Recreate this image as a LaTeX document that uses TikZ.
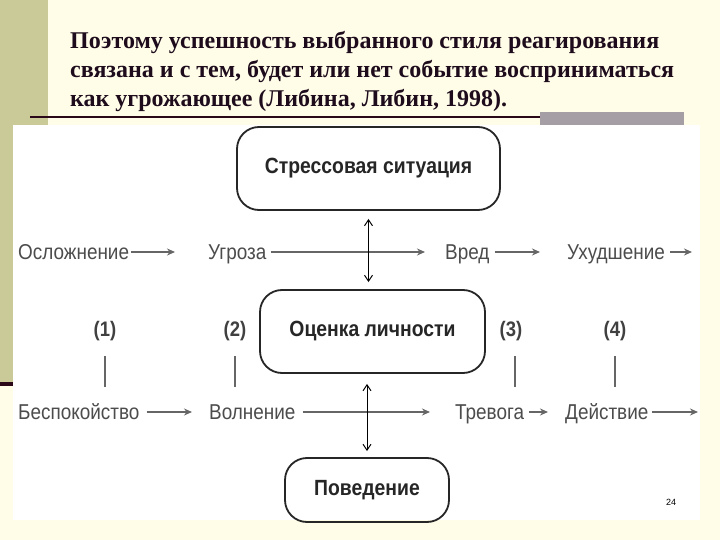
\documentclass[tikz,border=0pt]{standalone}
\usepackage{fontspec}
\setmainfont{Liberation Serif}
\setsansfont{Liberation Sans}
\newfontfamily\diagfont[FakeStretch=0.88]{Liberation Sans}
\usetikzlibrary{arrows.meta, positioning}

\definecolor{slidebg}{HTML}{FFFDE8}
\definecolor{olivestrip}{HTML}{CACA98}
\definecolor{darkline}{HTML}{2A0818}
\definecolor{graybar}{HTML}{A59FA5}
\definecolor{titletext}{HTML}{1E0C1C}

\begin{document}
\begin{tikzpicture}[x=1pt, y=-1pt,
        box/.style={draw=black!85, line width=1.8pt, rounded corners=22pt,
                    font=\diagfont\fontsize{22}{22}\bfseries\selectfont, text=black!85},
        lab/.style={font=\diagfont\fontsize{21.5}{21.5}\selectfont, text=black!70,
                    inner sep=0pt, text height=15pt, text depth=0pt, anchor=west},
        num/.style={font=\diagfont\fontsize{21}{21}\bfseries\selectfont, text=black!75},
        arr/.style={-{Stealth[length=8pt,width=7pt]}, line width=1.4pt, black!60},
        tick/.style={line width=1.3pt, black!60},
        dbl/.style={{Straight Barb[length=6pt,width=8pt]}-{Straight Barb[length=6pt,width=8pt]},
                    line width=1pt, black}]
      % slide
      \fill[slidebg] (0,0) rectangle (720,540);
      \useasboundingbox (0,0) rectangle (720,540);
      \fill[olivestrip] (0,0) rectangle (48,382);
      \fill[darkline] (0,382) rectangle (13,386);
      \fill[white] (13,125) rectangle (700,520);
      \fill[graybar] (540,112) rectangle (684,125);
      \draw[darkline, line width=2.5pt] (30,117) -- (540,117);
      \node[anchor=north west, inner sep=0pt, align=left, text=titletext,
            font=\fontsize{24}{29}\bfseries\selectfont] (title) at (70,31)
        {Поэтому успешность выбранного стиля реагирования\\
         связана и с тем, будет или нет событие восприниматься\\
         как угрожающее (Либина, Либин, 1998).};
      % boxes
      \node[box, minimum width=263pt, minimum height=83pt] (stress) at (368.5,168.5) {Стрессовая ситуация};
      \node[box, minimum width=225pt, minimum height=83pt] (ocenka) at (372.5,331.5) {Оценка личности};
      \node[box, minimum width=164pt, minimum height=64pt] (pov) at (367,490) {Поведение};
      % upper row
      \node[lab] (osl) at (18,252) {Осложнение};
      \node[lab] (ugr) at (208,252) {Угроза};
      \node[lab] (vred) at (445,252) {Вред};
      \node[lab] (uhud) at (567,252) {Ухудшение};
      \coordinate (uend) at (692,252);
      \draw[arr, shorten <=2pt, shorten >=33pt] (osl) -- (ugr);
      \draw[arr, shorten <=4pt, shorten >=20pt] (ugr) -- (vred);
      \draw[arr, shorten <=5pt, shorten >=27pt] (vred) -- (uhud);
      \draw[arr, shorten <=5pt] (uhud) -- (uend);
      % lower row
      \node[lab] (bes) at (18,412) {Беспокойство};
      \node[lab] (vol) at (209,412) {Волнение};
      \node[lab] (trev) at (455,412) {Тревога};
      \node[lab] (deys) at (565,412) {Действие};
      \coordinate (dend) at (698,412);
      \draw[arr, shorten <=7pt, shorten >=17pt] (bes) -- (vol);
      \draw[arr, shorten <=7pt, shorten >=25pt] (vol) -- (trev);
      \draw[arr, shorten <=5pt, shorten >=17pt] (trev) -- (deys);
      \draw[arr, shorten <=3pt] (deys) -- (dend);
      % numbers
      \node[num] (n1) at (105,331) {(1)};
      \node[num] (n2) at (235,331) {(2)};
      \node[num] (n3) at (511,331) {(3)};
      \node[num] (n4) at (615,331) {(4)};
      \draw[tick, shorten <=12pt, shorten >=17pt] (n1.south) -- (n1.south |- bes.north);
      \draw[tick, shorten <=12pt, shorten >=17pt] (n2.south) -- (n2.south |- vol.north);
      \draw[tick, shorten <=12pt, shorten >=17pt] ([xshift=4pt]n3.south) -- ([xshift=4pt]n3.south |- trev.north);
      \draw[tick, shorten <=12pt, shorten >=17pt] (n4.south) -- (n4.south |- deys.north);
      % two-way arrows
      \draw[dbl, shorten <=8pt, shorten >=7pt] (stress.south) -- (stress.south |- ocenka.north);
      \draw[dbl, shorten <=10pt, shorten >=6pt] (ocenka.south -| pov.north) -- (pov.north);
      \node[font=\sffamily\fontsize{9}{9}\selectfont] (pnum) at (671,502) {24};
    \end{tikzpicture}
\end{document}
